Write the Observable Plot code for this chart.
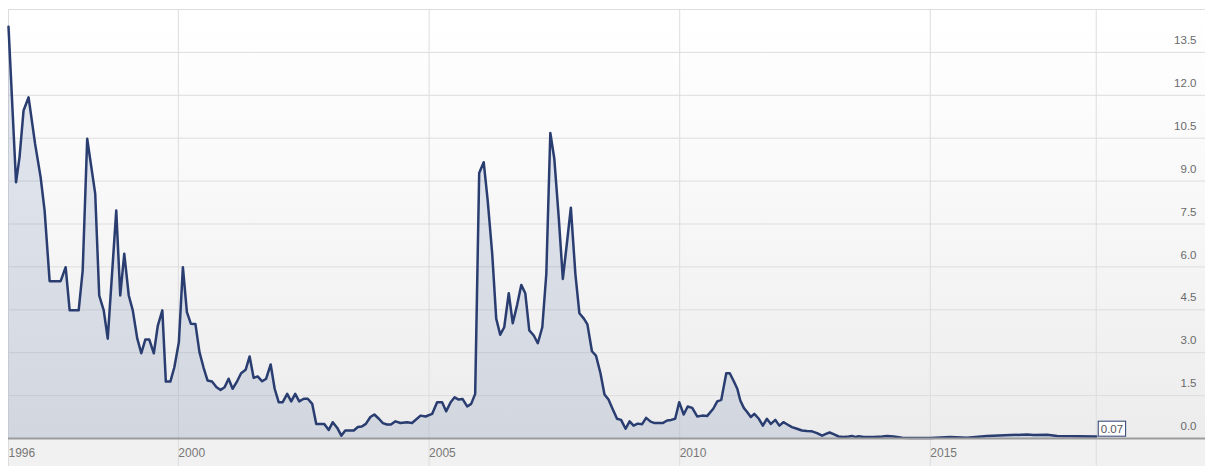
<!DOCTYPE html>
<html>
<head>
<meta charset="utf-8">
<script src="https://cdn.jsdelivr.net/npm/d3@7"></script>
<script src="https://cdn.jsdelivr.net/npm/@observablehq/plot@0.6"></script>
<style>
  html, body { margin: 0; padding: 0; background: #ffffff; }
  #chart { padding-left: 8px; padding-top: 9px; width: 1197px; }
  #chart svg { display: block; }
</style>
</head>
<body>
<div id="chart"></div>
<script>
const years = [1996.61,1996.76,1996.83,1996.91,1997.01,1997.14,1997.25,1997.33,1997.43,1997.65,
1997.75,1997.83,1998.01,1998.09,1998.18,1998.34,1998.42,1998.51,1998.59,1998.76,
1998.84,1998.92,1999.01,1999.09,1999.18,1999.26,1999.34,1999.42,1999.51,1999.59,
1999.68,1999.75,1999.84,1999.92,2000.01,2000.09,2000.17,2000.25,2000.34,2000.42,
2000.50,2000.58,2000.67,2000.76,2000.84,2000.92,2001.00,2001.08,2001.17,2001.25,
2001.34,2001.42,2001.50,2001.58,2001.67,2001.75,2001.84,2001.92,2002.00,2002.08,
2002.17,2002.25,2002.33,2002.41,2002.50,2002.58,2002.67,2002.75,2002.83,2002.91,
2003.00,2003.08,2003.17,2003.25,2003.33,2003.41,2003.50,2003.58,2003.66,2003.74,
2003.83,2003.91,2004.00,2004.08,2004.16,2004.24,2004.33,2004.43,2004.56,2004.66,
2004.83,2004.93,2005.06,2005.16,2005.26,2005.34,2005.43,2005.51,2005.59,2005.67,
2005.76,2005.84,2005.92,2006.00,2006.09,2006.17,2006.26,2006.34,2006.42,2006.50,
2006.59,2006.67,2006.76,2006.84,2006.92,2007.00,2007.09,2007.17,2007.26,2007.34,
2007.42,2007.50,2007.59,2007.67,2007.75,2007.83,2007.92,2008.00,2008.09,2008.16,
2008.25,2008.33,2008.42,2008.50,2008.58,2008.66,2008.75,2008.83,2008.92,2009.00,
2009.08,2009.16,2009.25,2009.33,2009.42,2009.50,2009.58,2009.66,2009.75,2009.83,
2009.91,2009.99,2010.08,2010.16,2010.25,2010.35,2010.45,2010.55,2010.67,2010.75,
2010.83,2010.93,2011.00,2011.08,2011.15,2011.21,2011.28,2011.35,2011.42,2011.49,
2011.58,2011.66,2011.74,2011.82,2011.91,2011.99,2012.07,2012.15,2012.24,2012.34,
2012.44,2012.54,2012.64,2012.74,2012.84,2012.93,2012.99,2013.07,2013.17,2013.27,
2013.37,2013.44,2013.51,2013.57,2013.67,2013.87,2014.04,2014.14,2014.27,2014.44,
2014.60,2015.00,2015.40,2015.73,2016.13,2016.60,2016.93,2017.06,2017.33,2017.53,
2017.93,2018.31];

const values = [14.4,8.96,9.84,11.47,11.93,10.3,9.14,7.97,5.5,5.5,
5.99,4.48,4.48,5.87,10.48,8.56,5.0,4.48,3.49,7.97,
5.0,6.46,5.0,4.48,3.49,2.98,3.46,3.46,2.98,3.95,
4.48,1.99,1.99,2.49,3.37,5.99,4.42,4.01,4.0,3.02,
2.49,2.03,1.99,1.79,1.70,1.79,2.09,1.74,2.0,2.28,
2.4,2.87,2.12,2.17,2.0,2.09,2.59,1.74,1.27,1.27,
1.56,1.3,1.56,1.3,1.39,1.39,1.21,0.51,0.51,0.51,
0.30,0.57,0.37,0.10,0.28,0.28,0.28,0.40,0.42,0.51,
0.75,0.84,0.69,0.54,0.49,0.49,0.6,0.54,0.57,0.54,
0.80,0.77,0.86,1.27,1.27,0.95,1.27,1.44,1.36,1.38,
1.12,1.21,1.56,9.28,9.66,8.32,6.46,4.19,3.63,3.89,
5.08,4.03,4.69,5.37,5.08,3.78,3.6,3.33,3.89,5.76,
10.68,9.78,7.68,5.58,6.81,8.07,5.76,4.38,4.19,3.99,
3.05,2.9,2.28,1.54,1.36,1.04,0.69,0.65,0.34,0.6,
0.45,0.52,0.5,0.72,0.59,0.54,0.54,0.54,0.63,0.65,
0.69,1.27,0.84,1.12,1.07,0.77,0.8,0.79,1.04,1.3,
1.35,2.28,2.28,2.0,1.74,1.33,1.07,0.92,0.75,0.86,
0.69,0.45,0.69,0.51,0.65,0.45,0.57,0.49,0.40,0.34,
0.28,0.26,0.25,0.19,0.10,0.17,0.21,0.15,0.07,0.05,
0.07,0.09,0.05,0.08,0.05,0.05,0.07,0.09,0.07,0.03,
0.02,0.02,0.05,0.03,0.09,0.12,0.14,0.12,0.13,0.09,
0.08,0.07];

// Axis ticks
const xTickYears = [1996, 2000, 2005, 2010, 2015];
const yTicks = [0, 1.5, 3, 4.5, 6, 7.5, 9, 10.5, 12, 13.5, 15];
const yLabels = [0, 1.5, 3, 4.5, 6, 7.5, 9, 10.5, 12, 13.5];
const xDomainEndYear = 2020.49;

function toDate(y) {
  const yr = Math.floor(y);
  const s = Date.UTC(yr, 0, 1), e = Date.UTC(yr + 1, 0, 1);
  return new Date(s + (y - yr) * (e - s));
}

const data = years.map((y, i) => ({date: toDate(y), value: values[i]}));
const first = data[0], last = data[data.length - 1];
const xDomain = [first.date, toDate(xDomainEndYear)];
const tickDates = xTickYears.map(y => toDate(y) < first.date ? first.date : toDate(y));
const gridDates = [...tickDates, last.date];

const GRID = "#dddddd";
const LINE = "#2a3d70";

const svg = Plot.plot({
  width: 1197,
  height: 457,
  marginTop: 0,
  marginLeft: 0,
  marginRight: 0,
  marginBottom: 28,
  style: {fontFamily: "'Liberation Sans', Arial, sans-serif", fontSize: "11px", background: "#f1f1f1", overflow: "visible"},
  x: {type: "utc", domain: xDomain, axis: null},
  y: {domain: [0, 15], axis: null},
  marks: [
    Plot.frame({fill: "#ffffff", stroke: null, className: "bgframe"}),
    Plot.ruleY(yTicks, {stroke: GRID, strokeWidth: 1}),
    Plot.ruleX(gridDates, {stroke: GRID, strokeWidth: 1}),
    Plot.axisX({ticks: gridDates, tickSize: 28, tickFormat: () => "", stroke: GRID, strokeOpacity: 1}),
    Plot.areaY(data, {x: "date", y: "value", fill: "#3a5c9c", fillOpacity: 0.15}),
    Plot.lineY(data, {x: "date", y: "value", stroke: LINE, strokeWidth: 2.5, strokeLinejoin: "round"}),
    Plot.ruleY([0], {stroke: "#9c9c9c", strokeWidth: 2}),
    Plot.text(yLabels, {y: d => d, text: d => d.toFixed(1), frameAnchor: "right", textAnchor: "end", dx: -9, dy: -12, fill: "#6a6a6a", fontSize: 11.5}),
    Plot.text(xTickYears, {x: (d, i) => tickDates[i], text: d => String(d), frameAnchor: "bottom", textAnchor: "start", lineAnchor: "middle", dy: 14.5, dx: 0, fill: "#777777", fontSize: 12}),
    Plot.text([last], {x: "date", y: "value", text: d => d.value.toFixed(2), textAnchor: "start", lineAnchor: "middle", dx: 4.5, dy: -7.5, fill: "#555555", fontSize: 11.5, className: "lastval"})
  ]
});

document.getElementById("chart").appendChild(svg);

// background gradient
const s = d3.select(svg);
const grad = s.insert("defs", ":first-child").append("linearGradient")
  .attr("id", "bgGrad").attr("x1", 0).attr("y1", 0).attr("x2", 0).attr("y2", 1);
grad.append("stop").attr("offset", "0").attr("stop-color", "#ffffff");
grad.append("stop").attr("offset", "0.35").attr("stop-color", "#fafafa");
grad.append("stop").attr("offset", "1").attr("stop-color", "#ececec");
s.selectAll(".bgframe rect, rect.bgframe, g.bgframe rect").attr("fill", "url(#bgGrad)");
s.selectAll("rect[aria-label='frame'], [aria-label='frame']").attr("fill", "url(#bgGrad)");

// box around last value label (same transform as the text)
const t = svg.querySelector(".lastval text");
if (t) {
  const b = t.getBBox();
  const cy = b.y + b.height / 2;
  const r = d3.select(t.parentNode).insert("rect", "text")
    .attr("x", b.x - 2.5).attr("y", cy - 7.5)
    .attr("width", b.width + 5).attr("height", 15)
    .attr("fill", "#ffffff").attr("stroke", LINE).attr("stroke-width", 1);
  const tr = t.getAttribute("transform");
  if (tr) r.attr("transform", tr);
}
</script>
</body>
</html>
